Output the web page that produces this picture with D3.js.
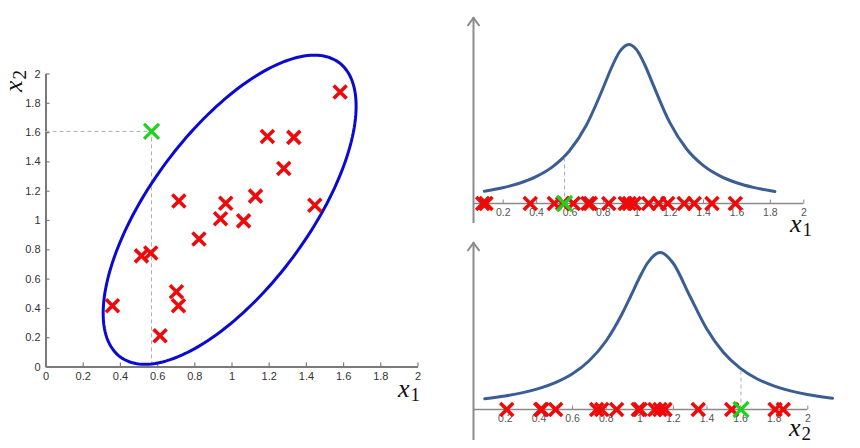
<!DOCTYPE html>
<html>
<head>
<meta charset="utf-8">
<script src="https://cdn.jsdelivr.net/npm/d3@7"></script>
<style>
  html, body { margin: 0; padding: 0; background: #fff; }
  svg { display: block; }
  .tick text { font-family: "Liberation Sans", Arial, sans-serif; }
</style>
</head>
<body>
<svg id="chart" width="860" height="448"></svg>
<script>
// ---- data -------------------------------------------------------------
// joint samples (x1, x2)
const sampleX1 = [0.36, 0.516, 0.566, 0.616, 0.704, 0.715, 0.717, 0.825, 0.941,
                  0.969, 1.065, 1.129, 1.193, 1.281, 1.335, 1.448, 1.584];
const sampleX2 = [0.415, 0.755, 0.775, 0.21, 0.51, 0.415, 1.13, 0.87, 1.008,
                  1.115, 0.994, 1.163, 1.57, 1.352, 1.564, 1.10, 1.874];
// the anomalous test point
const testPoint = [0.57, 1.605];

// covariance ellipse: centre, axis spreads, correlation
const ellipseCenter = [0.99, 1.07];
const ellipseSpread = [0.68, 1.055];
const ellipseRho = 0.67;

// one-dimensional marks on each marginal axis
const marginX1 = [0.08, 0.10, 0.365, 0.509, 0.559, 0.623, 0.71, 0.725, 0.835, 0.934,
                  0.958, 0.988, 1.074, 1.134, 1.188, 1.287, 1.347, 1.453, 1.593];
const marginX2 = [0.211, 0.413, 0.42, 0.502, 0.746, 0.776, 0.865, 0.994, 1.005, 1.093,
                  1.123, 1.153, 1.351, 1.55, 1.808, 1.857];

// marginal density curves
const densX1 = [0.09, 0.2, 0.3, 0.4, 0.5, 0.6, 0.7, 0.8, 0.85, 0.9, 0.955, 1.0, 1.05,
                1.1, 1.2, 1.3, 1.4, 1.5, 1.6, 1.7, 1.83];
const densP1 = [0.098, 0.126, 0.162, 0.215, 0.295, 0.422, 0.624, 0.920, 1.082, 1.214, 1.273,
                1.233, 1.112, 0.953, 0.649, 0.438, 0.305, 0.221, 0.166, 0.129, 0.096];
const densX2 = [0.08, 0.2, 0.3, 0.4, 0.5, 0.6, 0.7, 0.8, 0.9, 0.95, 1.0, 1.05, 1.125, 1.2,
                1.3, 1.4, 1.5, 1.6, 1.7, 1.8, 1.9, 2.0, 2.15];
const densP2 = [0.086, 0.108, 0.133, 0.167, 0.215, 0.284, 0.388, 0.544, 0.772, 0.910, 1.052,
                1.174, 1.256, 1.174, 0.910, 0.648, 0.458, 0.331, 0.246, 0.189, 0.149, 0.120, 0.090];

const mainTicks = [0, 0.2, 0.4, 0.6, 0.8, 1, 1.2, 1.4, 1.6, 1.8, 2];
const marginTicks = [0.2, 0.4, 0.6, 0.8, 1, 1.2, 1.4, 1.6, 1.8, 2];

// ---- styling ----------------------------------------------------------
const RED = "#ee0a0a", GREEN = "#1fd21f", BLUE = "#0a0ad0", CURVE = "#3a5e93";
const AXIS = "#7a7a7a";

const svg = d3.select("#chart");

function cross(g, cx, cy, half, color, width) {
  g.append("path")
    .attr("d", `M${cx - half},${cy - half}L${cx + half},${cy + half}M${cx - half},${cy + half}L${cx + half},${cy - half}`)
    .attr("stroke", color).attr("stroke-width", width).attr("fill", "none");
}

function mathLabel(g, x, y, sub, rotate) {
  const t = g.append("text")
    .attr("transform", `translate(${x},${y})` + (rotate ? ` rotate(${rotate})` : ""))
    .attr("font-family", "'Liberation Serif', 'DejaVu Serif', serif")
    .attr("fill", "#111");
  t.append("tspan").attr("font-style", "italic").attr("font-size", 26).text("x");
  t.append("tspan").attr("font-size", 19).attr("dx", 1).attr("dy", 4).text(sub);
}

// ---- joint scatter ----------------------------------------------------
const xL = d3.scaleLinear([0, 2], [45.5, 417.5]);
const yL = d3.scaleLinear([0, 2], [366.5, 73.5]);
const gL = svg.append("g");

const fmt = d => (d === 0 ? "0" : d3.format("~g")(d));

const axX = gL.append("g").attr("transform", `translate(0,${yL(0)})`)
  .call(d3.axisBottom(xL).tickValues(mainTicks).tickFormat(fmt).tickSizeInner(-4).tickSizeOuter(0).tickPadding(6));
const axY = gL.append("g").attr("transform", `translate(${xL(0)},0)`)
  .call(d3.axisLeft(yL).tickValues(mainTicks).tickFormat(fmt).tickSizeInner(-4).tickSizeOuter(0).tickPadding(5));
[axX, axY].forEach(a => {
  a.select(".domain").attr("stroke", AXIS).attr("stroke-width", 2);
  a.selectAll(".tick line").attr("stroke", AXIS).attr("stroke-width", 1.2);
  a.selectAll(".tick text").attr("font-size", 11).attr("fill", "#333");
});

// guide lines from the test point to both axes
gL.append("path")
  .attr("d", `M${xL(0)},${yL(testPoint[1])}H${xL(testPoint[0])}V${yL(0)}`)
  .attr("fill", "none").attr("stroke", "#b0b0b0").attr("stroke-width", 1).attr("stroke-dasharray", "4,3");

// ellipse
const ellipsePts = d3.range(0, 361, 2).map(deg => {
  const t = deg * Math.PI / 180;
  return [
    xL(ellipseCenter[0] + ellipseSpread[0] * Math.cos(t)),
    yL(ellipseCenter[1] + ellipseSpread[1] * (ellipseRho * Math.cos(t) + Math.sqrt(1 - ellipseRho * ellipseRho) * Math.sin(t)))
  ];
});
gL.append("path").attr("d", d3.line()(ellipsePts) + "Z")
  .attr("fill", "none").attr("stroke", BLUE).attr("stroke-width", 3);

sampleX1.forEach((v, i) => cross(gL, xL(v), yL(sampleX2[i]), 6.5, RED, 3.6));
cross(gL, xL(testPoint[0]), yL(testPoint[1]), 7.5, GREEN, 3.2);

mathLabel(gL, 398, 397, "1");
mathLabel(gL, 22, 92, "2", -90);

// ---- marginal panels --------------------------------------------------
function marginal(opts) {
  const { x, y, axisTop, axisBottom, dx, dp, marks, green, sub, labelX, labelY } = opts;
  const g = svg.append("g");
  const y0 = y(0);

  // vertical axis with arrow
  g.append("line").attr("x1", 473.5).attr("x2", 473.5).attr("y1", axisBottom).attr("y2", axisTop)
    .attr("stroke", "#8a8a8a").attr("stroke-width", 2);
  g.append("path").attr("d", `M467.5,${axisTop + 9}L473.5,${axisTop + 1}L479.5,${axisTop + 9}`)
    .attr("fill", "none").attr("stroke", "#8a8a8a").attr("stroke-width", 2);

  // horizontal axis
  const ax = g.append("g").attr("transform", `translate(0,${y0})`)
    .call(d3.axisBottom(x).tickValues(marginTicks).tickFormat(d3.format("~g"))
      .tickSizeInner(-4).tickSizeOuter(0).tickPadding(5));
  ax.select(".domain").attr("d", `M473.5,0H${x(2)}`).attr("stroke", "#8a8a8a").attr("stroke-width", 1.5);
  ax.selectAll(".tick line").attr("stroke", "#8a8a8a").attr("stroke-width", 1);
  ax.selectAll(".tick text").attr("font-size", 10.5).attr("fill", "#555");

  // density curve
  const pts = dx.map((v, i) => [x(v), y(dp[i])]);
  g.append("path").attr("d", d3.line().curve(d3.curveMonotoneX)(pts))
    .attr("fill", "none").attr("stroke", CURVE).attr("stroke-width", 3).attr("stroke-linecap", "round");

  // guide from the test point up to the curve
  const interp = d3.scaleLinear(dx, dp);
  g.append("line").attr("x1", x(green)).attr("x2", x(green)).attr("y1", y0).attr("y2", y(interp(green)))
    .attr("stroke", "#b0b0b0").attr("stroke-width", 1).attr("stroke-dasharray", "4,3");

  marks.forEach(v => cross(g, x(v), y0, 6.5, RED, 3.6));
  cross(g, x(green), y0, 7.5, GREEN, 3.2);

  mathLabel(g, labelX, labelY, sub);
}

marginal({
  x: d3.scaleLinear([0, 2], [469.3, 803.3]),
  y: d3.scaleLinear([0, 1.3], [203.5, 41]),
  axisTop: 17, axisBottom: 223,
  dx: densX1, dp: densP1, marks: marginX1, green: testPoint[0],
  sub: "1", labelX: 790, labelY: 232
});
marginal({
  x: d3.scaleLinear([0, 2], [471.3, 807.3]),
  y: d3.scaleLinear([0, 1.3], [409.5, 247]),
  axisTop: 242, axisBottom: 440,
  dx: densX2, dp: densP2, marks: marginX2, green: testPoint[1],
  sub: "2", labelX: 789, labelY: 436
});
</script>
</body>
</html>
